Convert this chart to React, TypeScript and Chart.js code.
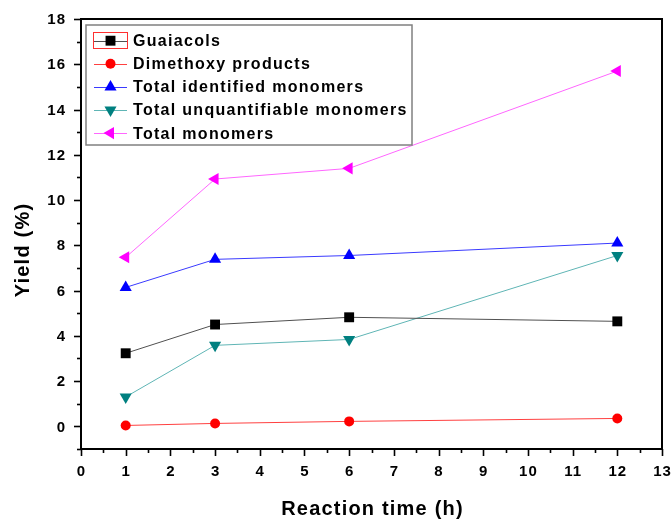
import React, { useEffect, useRef } from "react";
import { Chart, registerables } from "chart.js";

Chart.register(...registerables);

const reactionTimes = [1, 3, 6, 12];
const guaiacols = [3.23, 4.5, 4.82, 4.64];
const dimethoxyProducts = [0.04, 0.13, 0.22, 0.35];
const totalIdentified = [6.14, 7.38, 7.55, 8.1];
const totalUnquantifiable = [1.3, 3.58, 3.84, 7.55];
const totalMonomers = [7.47, 10.93, 11.4, 15.7];

const seriesNames = [
  "Guaiacols",
  "Dimethoxy products",
  "Total identified monomers",
  "Total unquantifiable monomers",
  "Total monomers",
];

const xTickLabels = ["0", "1", "2", "3", "4", "5", "6", "7", "8", "9", "10", "11", "12", "13"];
const yTickLabels = ["0", "2", "4", "6", "8", "10", "12", "14", "16", "18"];

const xTitle = "Reaction time (h)";
const yTitle = "Yield (%)";

const FONT = "'Liberation Sans', Arial, sans-serif";

type Style = { line: string; marker: string; shape: string; rot: number; r: number };
const styles: Style[] = [
  { line: "#505050", marker: "#000000", shape: "rect", rot: 0, r: 7 },
  { line: "#ff4040", marker: "#ff0000", shape: "circle", rot: 0, r: 5 },
  { line: "#3a3aff", marker: "#0000ff", shape: "triangle", rot: 0, r: 7 },
  { line: "#5fb5b5", marker: "#008080", shape: "triangle", rot: 180, r: 7 },
  { line: "#ff66ff", marker: "#ff00ff", shape: "triangle", rot: 270, r: 7 },
];

function drawMarker(ctx: CanvasRenderingContext2D, s: Style, x: number, y: number) {
  ctx.save();
  ctx.fillStyle = s.marker;
  ctx.beginPath();
  if (s.shape === "rect") {
    const h = (s.r * Math.SQRT2) / 2;
    ctx.rect(x - h, y - h, 2 * h, 2 * h);
  } else if (s.shape === "circle") {
    ctx.arc(x, y, s.r, 0, Math.PI * 2);
  } else {
    const rad = (s.rot * Math.PI) / 180;
    for (let k = 0; k < 3; k++) {
      const a = rad + (k * 2 * Math.PI) / 3;
      const px = x + Math.sin(a) * s.r;
      const py = y - Math.cos(a) * s.r;
      if (k === 0) ctx.moveTo(px, py);
      else ctx.lineTo(px, py);
    }
    ctx.closePath();
  }
  ctx.fill();
  ctx.restore();
}

const framePlugin = {
  id: "originFrame",
  afterDraw(chart: any) {
    const ctx: CanvasRenderingContext2D = chart.ctx;
    const { left, right, top, bottom } = chart.chartArea;
    const xs = chart.scales.x;
    const ys = chart.scales.y;
    ctx.save();
    ctx.strokeStyle = "#000";
    ctx.lineWidth = 2;
    ctx.strokeRect(left, top, right - left, bottom - top);

    // y ticks
    ctx.lineWidth = 1.6;
    for (let v = -1; v <= 18; v++) {
      const py = Math.round(ys.getPixelForValue(v)) + 0.5;
      const len = v % 2 === 0 ? 7 : 4;
      ctx.beginPath();
      ctx.moveTo(left, py);
      ctx.lineTo(left - len, py);
      ctx.stroke();
    }
    // x ticks
    for (let v = 0; v <= 13; v += 0.5) {
      const px = Math.round(xs.getPixelForValue(v)) + 0.5;
      const len = Number.isInteger(v) ? 7 : 4;
      ctx.beginPath();
      ctx.moveTo(px, bottom);
      ctx.lineTo(px, bottom + len);
      ctx.stroke();
    }

    ctx.fillStyle = "#000";
    ctx.font = `bold 15px ${FONT}`;
    (ctx as any).letterSpacing = "1px";
    ctx.textAlign = "right";
    ctx.textBaseline = "middle";
    yTickLabels.forEach((lab) => {
      const py = ys.getPixelForValue(Number(lab));
      ctx.fillText(lab, left - 15, py + 1);
    });
    ctx.textAlign = "center";
    ctx.textBaseline = "middle";
    xTickLabels.forEach((lab) => {
      const px = xs.getPixelForValue(Number(lab));
      ctx.fillText(lab, px + 0.5, bottom + 23);
    });

    // titles
    ctx.font = `bold 20px ${FONT}`;
    (ctx as any).letterSpacing = "1.2px";
    ctx.fillText(xTitle, (left + right) / 2 + 1, 509);
    ctx.save();
    ctx.translate(23, 250);
    ctx.rotate(-Math.PI / 2);
    ctx.fillText(yTitle, 0, 0);
    ctx.restore();

    // legend
    ctx.fillStyle = "#fff";
    ctx.fillRect(86, 25, 326, 120);
    ctx.strokeStyle = "#808080";
    ctx.lineWidth = 1.5;
    ctx.strokeRect(86, 25, 326, 120);
    ctx.font = `bold 16px ${FONT}`;
    (ctx as any).letterSpacing = "1.3px";
    ctx.textAlign = "left";
    ctx.textBaseline = "middle";
    seriesNames.forEach((name, i) => {
      const cy = 40.7 + i * 23.1;
      const s = styles[i];
      ctx.strokeStyle = s.line;
      ctx.lineWidth = 1;
      ctx.beginPath();
      ctx.moveTo(94, Math.round(cy) + 0.5);
      ctx.lineTo(127, Math.round(cy) + 0.5);
      ctx.stroke();
      drawMarker(ctx, s, 110.5, cy);
      ctx.fillStyle = "#000";
      ctx.fillText(name, 133, cy + 1);
    });
    ctx.strokeStyle = "#ff3030";
    ctx.lineWidth = 1;
    ctx.strokeRect(93.5, 32.5, 34, 16);
    ctx.restore();
  },
};

export default function App() {
  const ref = useRef<HTMLCanvasElement | null>(null);
  useEffect(() => {
    if (!ref.current) return;
    const all = [guaiacols, dimethoxyProducts, totalIdentified, totalUnquantifiable, totalMonomers];
    const chart = new Chart(ref.current, {
      type: "line",
      data: {
        datasets: all.map((vals, i) => ({
          label: seriesNames[i],
          data: reactionTimes.map((t, j) => ({ x: t, y: vals[j] })),
          borderColor: styles[i].line,
          backgroundColor: styles[i].marker,
          borderWidth: 1,
          pointStyle: styles[i].shape === "rect" ? "rect" : styles[i].shape,
          pointRotation: styles[i].rot,
          pointRadius: styles[i].r,
          pointBorderWidth: 0,
          pointBackgroundColor: styles[i].marker,
          pointBorderColor: styles[i].marker,
          tension: 0,
          fill: false,
        })),
      },
      options: {
        responsive: false,
        animation: false,
        layout: { padding: { left: 81, right: 9, top: 19, bottom: 72 } },
        plugins: { legend: { display: false }, tooltip: { enabled: false } },
        scales: {
          x: { type: "linear", min: 0, max: 13, display: false },
          y: { type: "linear", min: -1, max: 18, display: false },
        },
      },
      plugins: [framePlugin],
    });
    return () => chart.destroy();
  }, []);
  return (
    <div style={{ position: "fixed", left: 0, top: 0, width: 671, height: 521, background: "#fff" }}>
      <canvas ref={ref} width={671} height={521} style={{ display: "block" }} />
    </div>
  );
}
